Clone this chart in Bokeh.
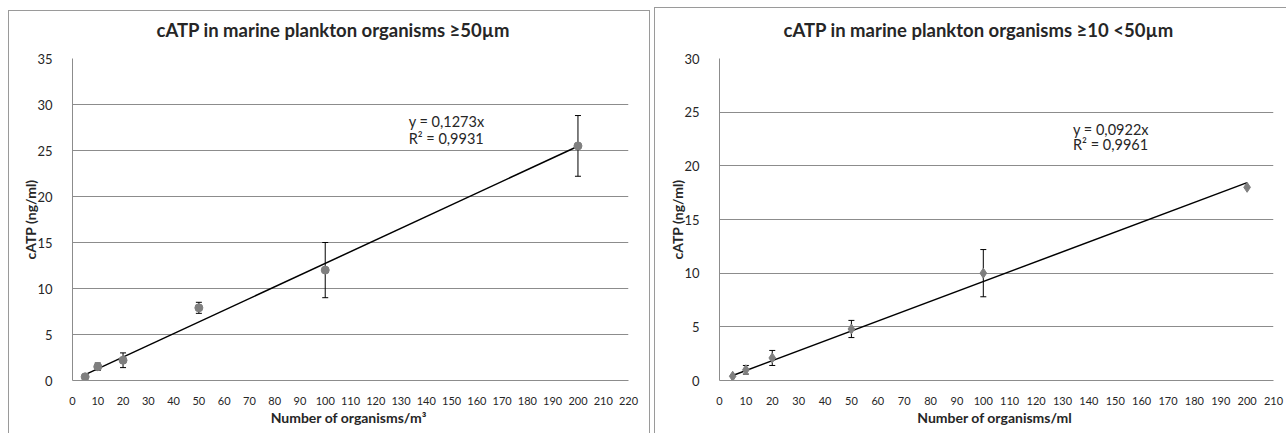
from bokeh.plotting import figure
from bokeh.models import Whisker, ColumnDataSource, Label, FixedTicker, TeeHead, Range1d, Title
from bokeh.layouts import row
from bokeh.embed import file_html
from bokeh.resources import INLINE

# ---- data: left chart (>=50 µm) ----
left_title = "cATP in marine plankton organisms ≥50µm"
left_xlabel = "Number  of organisms/m³"
left_x = [5, 10, 20, 50, 100, 200]
left_y = [0.4, 1.5, 2.2, 7.9, 12.0, 25.5]
left_err = [0.0, 0.4, 0.8, 0.6, 3.0, 3.3]
left_slope = 0.1273
left_eq = "y = 0,1273x"
left_r2 = "R² = 0,9931"
left_xticks = list(range(0, 221, 10))
left_yticks = list(range(0, 36, 5))

# ---- data: right chart (>=10 <50 µm) ----
right_title = "cATP in marine plankton organisms ≥10 <50µm"
right_xlabel = "Number  of organisms/ml"
right_x = [5, 10, 20, 50, 100, 200]
right_y = [0.4, 1.0, 2.1, 4.8, 10.0, 18.0]
right_err = [0.0, 0.4, 0.7, 0.8, 2.2, 0.0]
right_slope = 0.0922
right_eq = "y = 0,0922x"
right_r2 = "R² = 0,9961"
right_xticks = list(range(0, 211, 10))
right_yticks = list(range(0, 31, 5))

trend_x = [5, 200]

FONT = "Lato"
TXT = "#262626"
GRID = "#8c8c8c"
BORDER = "#9a9a9a"


def border_styles(lines):
    g = f"linear-gradient({BORDER},{BORDER})"
    return {
        "background-image": ", ".join([g] * len(lines)),
        "background-position": ", ".join(l[0] for l in lines),
        "background-size": ", ".join(l[1] for l in lines),
        "background-repeat": "no-repeat",
    }


def make_panel(title, xlabel, xs, ys, errs, slope, eq, r2, xticks, yticks,
               width, mb_left, mb_right, mb_top, marker, msize, eq_pos, title_offset, lines):
    p = figure(width=width, height=433, output_backend="svg", toolbar_location=None,
               x_range=Range1d(xticks[0], xticks[-1]), y_range=Range1d(yticks[0], yticks[-1]),
               min_border_left=mb_left, min_border_right=mb_right,
               min_border_top=mb_top, min_border_bottom=53)
    p.border_fill_color = None
    p.background_fill_color = None
    p.outline_line_color = None
    p.styles = border_styles(lines)

    # small empty spacer between plot area and title
    p.add_layout(Title(text=" ", text_font_size="1px"), "above")

    p.title.text = title
    p.title.align = "left"
    p.title.text_font = FONT
    p.title.text_font_size = "18.5px"
    p.title.text_font_style = "bold"
    p.title.text_color = TXT
    p.title.offset = title_offset

    p.xgrid.grid_line_color = None
    p.ygrid.grid_line_color = GRID
    p.ygrid.grid_line_width = 1

    p.xaxis.ticker = FixedTicker(ticks=xticks)
    p.yaxis.ticker = FixedTicker(ticks=yticks)
    for ax in (p.xaxis[0], p.yaxis[0]):
        ax.major_tick_line_color = None
        ax.minor_tick_line_color = None
        ax.axis_line_color = GRID
        ax.major_label_text_font = FONT
        ax.major_label_text_color = TXT
        ax.axis_label_text_font = FONT
        ax.axis_label_text_font_size = "14px"
        ax.axis_label_text_font_style = "bold"
        ax.axis_label_text_color = TXT
    p.xaxis.major_label_text_font_size = "11px"
    p.yaxis.major_label_text_font_size = "13px"
    p.xaxis.axis_label = xlabel
    p.yaxis.axis_label = "cATP (ng/ml)"
    p.xaxis.major_label_standoff = 10
    p.xaxis.axis_label_standoff = 1
    p.yaxis.major_label_standoff = 14
    p.yaxis.axis_label_standoff = -5

    # trend line
    p.line(trend_x, [slope * v for v in trend_x], line_color="black", line_width=1.5)

    # error bars (only where an error is shown)
    ex = [x for x, e in zip(xs, errs) if e > 0]
    ey = [y for y, e in zip(ys, errs) if e > 0]
    ee = [e for e in errs if e > 0]
    src = ColumnDataSource(dict(x=ex, lo=[y - e for y, e in zip(ey, ee)],
                                hi=[y + e for y, e in zip(ey, ee)]))
    w = Whisker(source=src, base="x", lower="lo", upper="hi", line_color="black", line_width=1,
                upper_head=TeeHead(size=6, line_color="black", line_width=1),
                lower_head=TeeHead(size=6, line_color="black", line_width=1))
    p.add_layout(w)

    p.scatter(xs, ys, marker=marker, size=msize, fill_color="#7f7f7f", line_color="#7f7f7f")

    p.add_layout(Label(x=eq_pos[0], y=eq_pos[1], text=eq, text_font=FONT, text_font_size="14.5px",
                       text_color=TXT, text_baseline="middle"))
    p.add_layout(Label(x=eq_pos[0], y=eq_pos[2], text=r2, text_font=FONT, text_font_size="14.5px",
                       text_color=TXT, text_baseline="middle"))
    return p


p1 = make_panel(left_title, left_xlabel, left_x, left_y, left_err, left_slope, left_eq, left_r2,
                left_xticks, left_yticks, 650, 72, 22, 58, "circle", 8, (133, 28.15, 26.3), 84,
                [("8px 10px", "1px 100%"), ("8px 10px", "642px 1px"), ("649px 10px", "1px 100%")])
p2 = make_panel(right_title, right_xlabel, right_x, right_y, right_err, right_slope, right_eq, right_r2,
                right_xticks, right_yticks, 632, 65, 13, 56, "diamond", 10, (134, 23.43, 21.95), 64,
                [("0px 7px", "1px 100%"), ("0px 7px", "100% 1px")])

layout = row(p1, p2, spacing=4)
open("out.html", "w").write(file_html(layout, INLINE))
